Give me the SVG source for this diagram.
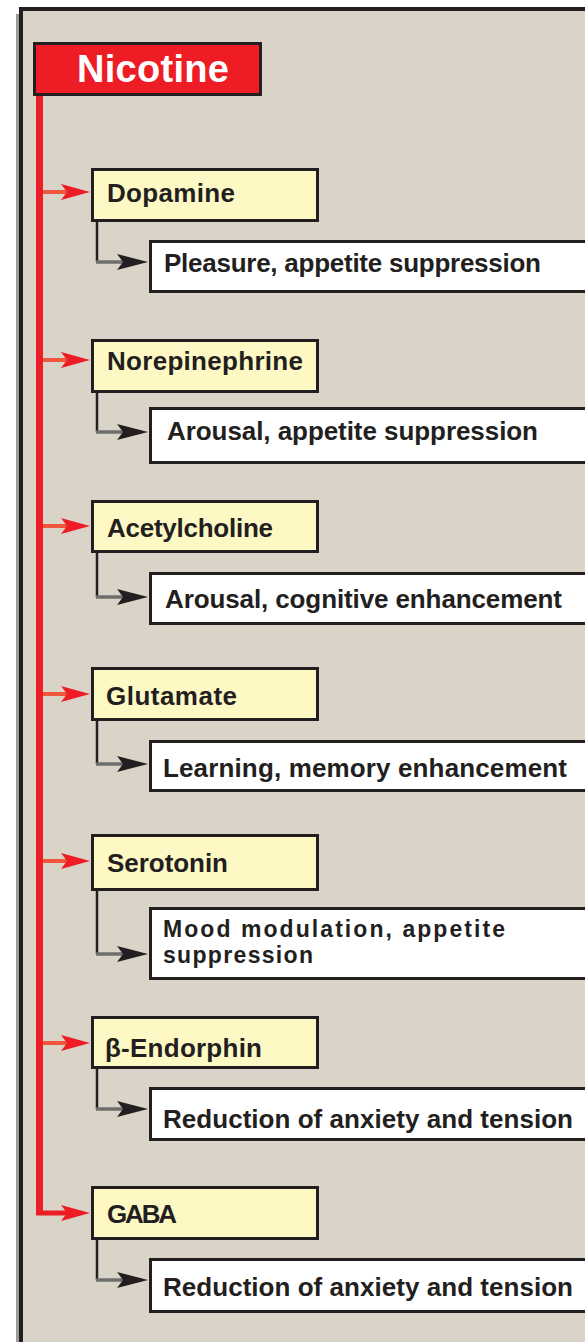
<svg xmlns="http://www.w3.org/2000/svg" width="585" height="1342" viewBox="0 0 585 1342">
  <style>
    .panel { fill: #DAD3C7; stroke: #231F20; stroke-width: 4; }
    .root { fill: #EE1C24; stroke: #231F20; stroke-width: 3; }
    .nt { fill: #FEF9C4; stroke: #231F20; stroke-width: 3; }
    .fx { fill: #FFFFFF; stroke: #231F20; stroke-width: 3; }
    text { font-family: "Liberation Sans", Arial, sans-serif; font-weight: bold; fill: #231F20; }
    .title { font-size: 38px; fill: #FFFFFF; }
    .lbl { font-size: 26px; }
    .lbl2 { font-size: 23px; }
    .trunk { fill: none; stroke: #EE1C24; stroke-width: 7; }
    .branch { fill: none; stroke: #F0553D; stroke-width: 4; }
    .down { fill: none; stroke: #231F20; stroke-width: 2.5; }
    .side { fill: none; stroke: #6E6E6E; stroke-width: 3.5; }
  </style>
  <defs>
    <marker id="redHead" markerUnits="userSpaceOnUse" viewBox="0 -9 29 18" refX="6" refY="0" markerWidth="29" markerHeight="18" orient="auto">
      <path d="M0,-8 L29,0 L0,8 L6,0 Z" fill="#EE1C24"/>
    </marker>
    <marker id="darkHead" markerUnits="userSpaceOnUse" viewBox="0 -9 31 18" refX="6" refY="0" markerWidth="31" markerHeight="18" orient="auto">
      <path d="M0,-8 L31,0 L0,8 L6,0 Z" fill="#231F20"/>
    </marker>
  </defs>

  <!-- background panel -->
  <line x1="17.5" y1="14" x2="17.5" y2="1342" stroke="#9B9B9B" stroke-width="3"/>
  <rect class="panel" x="21" y="9" width="620" height="1400"/>

  <!-- connectors -->
  <g id="connectors">
    <path class="trunk" d="M39.5,96 V1213"/>
    <line class="branch" x1="43" y1="192" x2="67" y2="192" marker-end="url(#redHead)"/>
    <line class="branch" x1="43" y1="360" x2="67" y2="360" marker-end="url(#redHead)"/>
    <line class="branch" x1="43" y1="526" x2="67" y2="526" marker-end="url(#redHead)"/>
    <line class="branch" x1="43" y1="694" x2="67" y2="694" marker-end="url(#redHead)"/>
    <line class="branch" x1="43" y1="861" x2="67" y2="861" marker-end="url(#redHead)"/>
    <line class="branch" x1="43" y1="1043" x2="67" y2="1043" marker-end="url(#redHead)"/>
    <path d="M36,1213 H67" fill="none" stroke="#EE1C24" stroke-width="5" marker-end="url(#redHead)"/>

    <path class="down" d="M97,222 V262"/>
    <line class="side" x1="96" y1="262" x2="123" y2="262" marker-end="url(#darkHead)"/>
    <path class="down" d="M97,393 V432"/>
    <line class="side" x1="96" y1="432" x2="123" y2="432" marker-end="url(#darkHead)"/>
    <path class="down" d="M97,553 V597"/>
    <line class="side" x1="96" y1="597" x2="123" y2="597" marker-end="url(#darkHead)"/>
    <path class="down" d="M97,721 V764"/>
    <line class="side" x1="96" y1="764" x2="123" y2="764" marker-end="url(#darkHead)"/>
    <path class="down" d="M97,891 V954"/>
    <line class="side" x1="96" y1="954" x2="123" y2="954" marker-end="url(#darkHead)"/>
    <path class="down" d="M97,1069 V1109"/>
    <line class="side" x1="96" y1="1109" x2="123" y2="1109" marker-end="url(#darkHead)"/>
    <path class="down" d="M97,1240 V1280"/>
    <line class="side" x1="96" y1="1280" x2="123" y2="1280" marker-end="url(#darkHead)"/>
  </g>

  <!-- root -->
  <g id="nicotine">
    <rect class="root" x="34.5" y="43.5" width="226" height="51"/>
    <text class="title" x="77" y="82" textLength="152">Nicotine</text>
  </g>

  <!-- transmitters -->
  <g id="dopamine">
    <rect class="nt" x="92.5" y="169.5" width="225" height="51"/>
    <text class="lbl" x="107" y="202" textLength="128">Dopamine</text>
  </g>
  <g id="norepinephrine">
    <rect class="nt" x="92.5" y="340.5" width="225" height="51"/>
    <text class="lbl" x="107" y="370" textLength="196">Norepinephrine</text>
  </g>
  <g id="acetylcholine">
    <rect class="nt" x="92.5" y="501.5" width="225" height="50"/>
    <text class="lbl" x="107" y="537" textLength="166">Acetylcholine</text>
  </g>
  <g id="glutamate">
    <rect class="nt" x="92.5" y="668.5" width="225" height="51"/>
    <text class="lbl" x="106" y="705" textLength="131">Glutamate</text>
  </g>
  <g id="serotonin">
    <rect class="nt" x="92.5" y="835.5" width="225" height="54"/>
    <text class="lbl" x="107" y="872" textLength="121">Serotonin</text>
  </g>
  <g id="beta-endorphin">
    <rect class="nt" x="92.5" y="1017.5" width="225" height="50"/>
    <text class="lbl" x="105" y="1057" textLength="157">β-Endorphin</text>
  </g>
  <g id="gaba">
    <rect class="nt" x="92.5" y="1187.5" width="225" height="51"/>
    <text class="lbl" x="107" y="1223" textLength="70">GABA</text>
  </g>

  <!-- effects -->
  <g id="effect-dopamine">
    <rect class="fx" x="150.5" y="241.5" width="500" height="50"/>
    <text class="lbl" x="164" y="272" textLength="377">Pleasure, appetite suppression</text>
  </g>
  <g id="effect-norepinephrine">
    <rect class="fx" x="150.5" y="408.5" width="500" height="54"/>
    <text class="lbl" x="167" y="440" textLength="371">Arousal, appetite suppression</text>
  </g>
  <g id="effect-acetylcholine">
    <rect class="fx" x="150.5" y="573.5" width="500" height="50"/>
    <text class="lbl" x="165" y="608" textLength="397">Arousal, cognitive enhancement</text>
  </g>
  <g id="effect-glutamate">
    <rect class="fx" x="150.5" y="741.5" width="500" height="49"/>
    <text class="lbl" x="163" y="777" textLength="404">Learning, memory enhancement</text>
  </g>
  <g id="effect-serotonin">
    <rect class="fx" x="150.5" y="908.5" width="500" height="70"/>
    <text class="lbl2" x="163" y="937" textLength="342">Mood modulation, appetite</text>
    <text class="lbl2" x="163" y="963" textLength="150">suppression</text>
  </g>
  <g id="effect-beta-endorphin">
    <rect class="fx" x="150.5" y="1088.5" width="500" height="51"/>
    <text class="lbl" x="163" y="1128" textLength="410">Reduction of anxiety and tension</text>
  </g>
  <g id="effect-gaba">
    <rect class="fx" x="150.5" y="1259.5" width="500" height="52"/>
    <text class="lbl" x="163" y="1296" textLength="410">Reduction of anxiety and tension</text>
  </g>
</svg>
